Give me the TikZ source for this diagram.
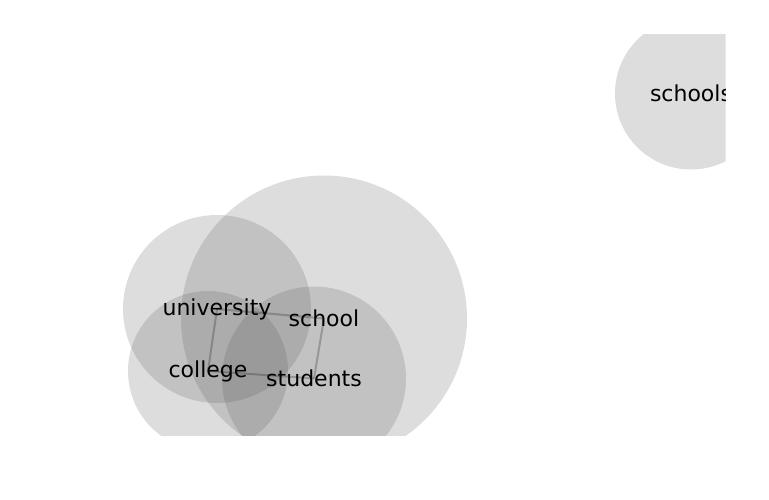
\documentclass[tikz,border=0pt]{standalone}
\usepackage{fontspec}
\setmainfont{DejaVu Sans}
\usepackage{xcolor}
\usetikzlibrary{positioning}
\definecolor{bubblegray}{RGB}{85,85,85}
\pgfdeclarelayer{bubbles}
\pgfdeclarelayer{links}
\pgfsetlayers{bubbles,links,main}

\begin{document}
\begin{tikzpicture}[
  x=1pt, y=-1pt,
  word/.style={inner sep=0pt, font=\fontsize{22}{26}\selectfont},
  bubble/.style={fill=bubblegray, fill opacity=0.2},
  link/.style={draw=black, draw opacity=0.22, line width=2pt}
]
  \useasboundingbox (0,0) rectangle (769,500);
  \begin{scope}
    \clip (40,35) rectangle (725.5,435);
    \node[word] (school) at (324,318.5) {school};
    \node[word] (university) at (217,309) {university};
    \node[word] (college) at (208,371) {college};
    \node[word] (students) at (314,378.5) {students};
    \node[word] (schools) at (691,93.5) {schools};
  \end{scope}
  \begin{pgfonlayer}{bubbles}
    \clip (40,35) rectangle (725.5,435);
    \fill[bubble] (school.center) circle (143pt);
    \fill[bubble] (university.center) circle (94pt);
    \fill[bubble] (college.center) circle (80pt);
    \fill[bubble] (students.center) circle (92pt);
    \fill[bubble] (schools.center) circle (76pt);
  \end{pgfonlayer}
  \begin{pgfonlayer}{links}
    \draw[link] (university.center) -- (school.center);
    \draw[link] (university.center) -- (college.center);
    \draw[link] (college.center) -- (students.center);
    \draw[link] (school.center) -- (students.center);
  \end{pgfonlayer}
\end{tikzpicture}
\end{document}
